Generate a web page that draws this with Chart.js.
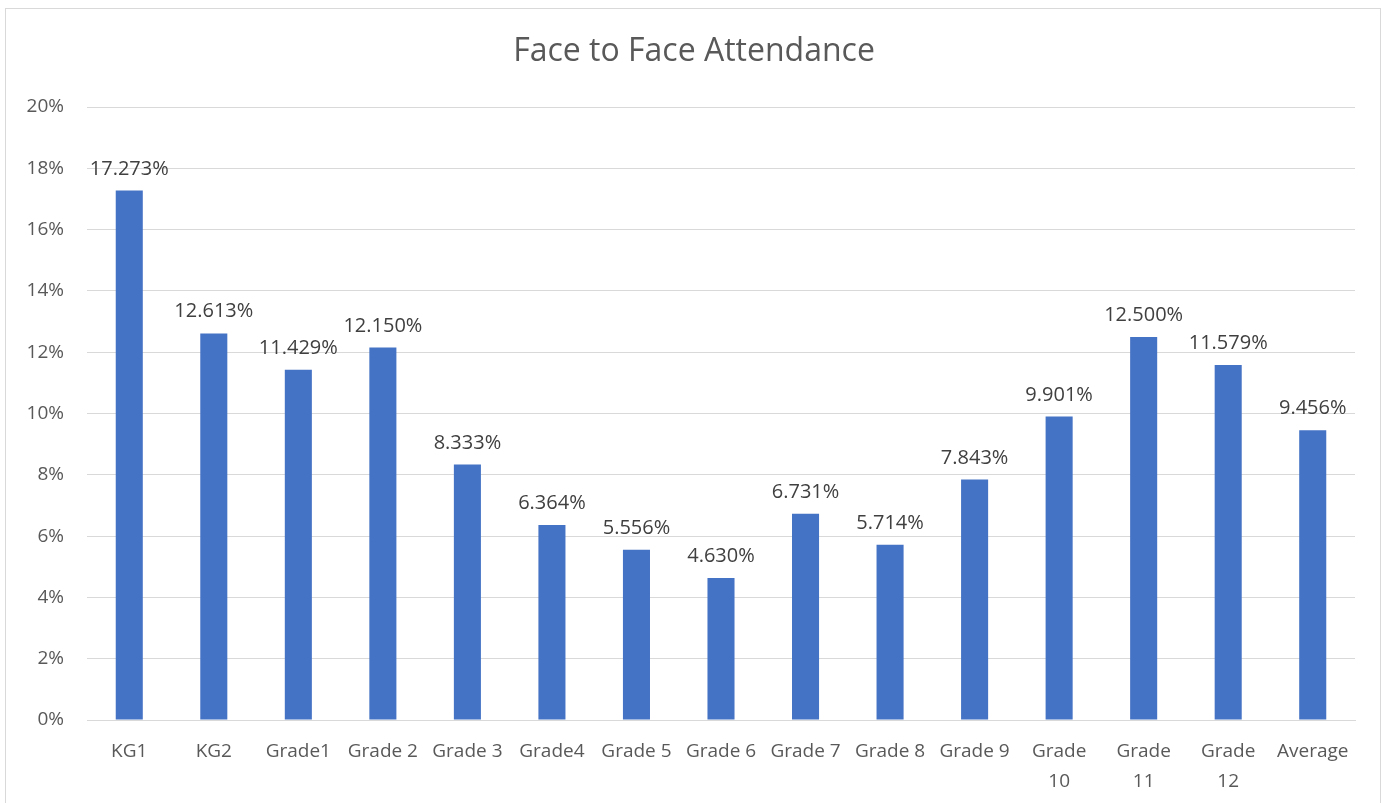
<!DOCTYPE html>
<html>
<head>
<meta charset="utf-8">
<script src="https://cdn.jsdelivr.net/npm/chart.js@4"></script>
<style>
  html, body { margin: 0; padding: 0; background: #fff; overflow: hidden; }
  #frame {
    position: absolute; left: 5px; top: 8px; width: 1376px; height: 820px;
    border: 1px solid #d9d9d9; box-sizing: border-box;
  }
  #wrap { position: absolute; left: 0; top: 0; width: 1391px; height: 803px; }
</style>
</head>
<body>
<div id="frame"></div>
<div id="wrap"><canvas id="chart"></canvas></div>
<script>
  // Kategorien und Werte (Anteil in %)
  const CATEGORIES = [
    "KG1", "KG2", "Grade1", "Grade 2", "Grade 3", "Grade4", "Grade 5", "Grade 6",
    "Grade 7", "Grade 8", "Grade 9", ["Grade", "10"], ["Grade", "11"], ["Grade", "12"], "Average"
  ];
  const VALUES = [
    17.273, 12.613, 11.429, 12.150, 8.333, 6.364, 5.556, 4.630,
    6.731, 5.714, 7.843, 9.901, 12.500, 11.579, 9.456
  ];
  const Y_TICKS = [0, 2, 4, 6, 8, 10, 12, 14, 16, 18, 20];
  const TITLE = "Face to Face Attendance";

  const BLUE = "#4472c4";
  const TEXT = "#595959";
  const GRID = "#d9d9d9";
  const FONT = "'Open Sans', sans-serif";

  // Datenbeschriftung über jedem Balken + Titel mittig über dem Rahmen
  const valueLabels = {
    id: "valueLabels",
    afterDatasetsDraw(chart) {
      const ctx = chart.ctx;
      const meta = chart.getDatasetMeta(0);
      ctx.save();
      ctx.font = "20px " + FONT;
      ctx.fillStyle = "#404040";
      ctx.textAlign = "center";
      ctx.textBaseline = "alphabetic";
      meta.data.forEach((bar, i) => {
        ctx.fillText(VALUES[i].toFixed(3) + "%", bar.x, bar.y - 16);
      });
      ctx.font = "32px " + FONT;
      ctx.fillStyle = TEXT;
      ctx.textBaseline = "middle";
      ctx.fillText(TITLE, 694, 52);
      ctx.restore();
    },
  };

  new Chart(document.getElementById("chart"), {
    type: "bar",
    data: {
      labels: CATEGORIES,
      datasets: [{
        data: VALUES,
        backgroundColor: BLUE,
        categoryPercentage: 1,
        barPercentage: 0.32,
      }],
    },
    options: {
      responsive: true,
      maintainAspectRatio: false,
      animation: false,
      layout: { padding: { left: 0, right: 36, top: 107, bottom: 0 } },
      plugins: {
        legend: { display: false },
        tooltip: { enabled: false },
        title: { display: false },
      },
      scales: {
        x: {
          grid: { display: false, drawTicks: false },
          border: { display: true, color: GRID, width: 1 },
          ticks: {
            color: TEXT,
            font: { family: FONT, size: 19, lineHeight: 1.58 },
            padding: 17,
            maxRotation: 0,
            autoSkip: false,
          },
          afterFit: (s) => { s.height = 83; },
        },
        y: {
          min: 0,
          max: 20,
          afterBuildTicks: (s) => { s.ticks = Y_TICKS.map((v) => ({ value: v })); },
          grid: { color: GRID, drawTicks: false },
          border: { display: false },
          ticks: {
            color: TEXT,
            font: { family: FONT, size: 19 },
            padding: 23,
            callback: (v) => v + "%",
          },
          afterFit: (s) => { s.width = 87; },
        },
      },
    },
    plugins: [valueLabels],
  });
</script>
</body>
</html>
